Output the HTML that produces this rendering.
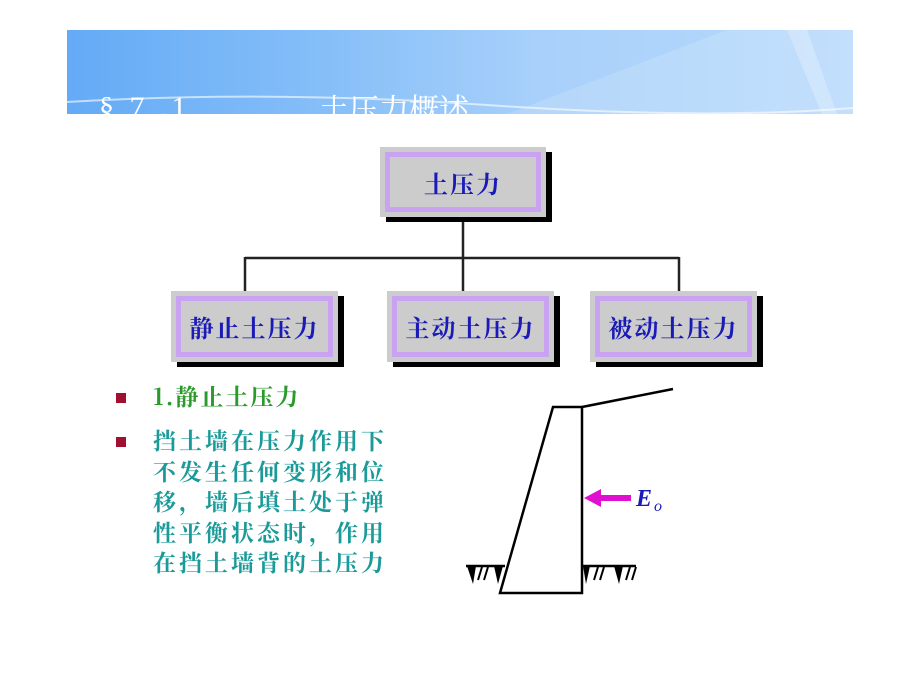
<!DOCTYPE html>
<html><head><meta charset="utf-8"><style>
body{margin:0;width:920px;height:690px;background:#fff;position:relative;overflow:hidden;font-family:"Liberation Serif","Noto Serif CJK SC",serif}
.banner{position:absolute;left:67px;top:30px;width:786px;height:84px;background:linear-gradient(90deg,#64aaf6 0%,#88c0f8 35%,#a8d0fa 60%,#b8dafc 100%);overflow:hidden}
.box{position:absolute;background:#cccccc;box-shadow:6px 5px 0 #000}
.box .in{position:absolute;left:5px;top:5px;right:5px;bottom:5px;border:5px solid #c9a3f2;display:flex;align-items:center;justify-content:center;color:#1a1ab8;font-size:24px;font-weight:bold;letter-spacing:2px;font-family:"Noto Serif CJK SC",serif}
.t{position:absolute;font-family:"Noto Serif CJK SC",serif}
.sq{position:absolute;width:10px;height:10px;background:#a01030}
</style></head><body>
<div class="banner">
<svg width="786" height="84" style="position:absolute;left:0;top:0">
<polygon points="440,84 660,0 786,0 786,84" fill="#ffffff" opacity="0.15"/>
<polygon points="720,0 740,0 770,84 755,84" fill="#ffffff" opacity="0.25"/>
<path d="M0,72 Q200,60 420,75 T786,78" stroke="#fff" stroke-width="2" fill="none" opacity="0.6"/>
</svg>
<div class="t" style="left:32px;top:63px;color:#fff;font-size:30px;line-height:30px;font-family:'Liberation Serif','Noto Serif CJK SC',serif;letter-spacing:4px">§ 7 .1</div>
<div class="t" style="left:252px;top:62px;color:#fff;font-size:30px;line-height:30px">土压力概述</div>
</div>
<svg width="920" height="690" style="position:absolute;left:0;top:0">
<g stroke="#222" stroke-width="2.5" fill="none">
<line x1="463" y1="220" x2="463" y2="292"/>
<line x1="245" y1="258" x2="679" y2="258"/>
<line x1="245" y1="257" x2="245" y2="292"/>
<line x1="679" y1="257" x2="679" y2="292"/>
</g>
<g stroke="#000" stroke-width="2.5" fill="none">
<polygon points="553,407 582,407 582,593 500,593"/>
<line x1="582" y1="407" x2="673" y2="389"/>
<line x1="466" y1="566" x2="505" y2="566"/>
<line x1="582" y1="566" x2="636" y2="566"/>
</g>
<g fill="#000">
<polygon points="467,566 476,566 473,584"/>
<polygon points="494,566 503,566 498,584"/>
<polygon points="583,566 590,566 586,584"/>
<polygon points="614,566 623,566 619,584"/>
</g>
<g stroke="#000" stroke-width="2">
<line x1="482" y1="567" x2="478" y2="580"/><line x1="488" y1="567" x2="484" y2="580"/>
<line x1="598" y1="567" x2="594" y2="580"/><line x1="604" y1="567" x2="600" y2="580"/>
<line x1="630" y1="567" x2="626" y2="580"/><line x1="636" y1="567" x2="632" y2="580"/>
</g>
<rect x="598" y="495" width="33" height="6" fill="#e010d0"/>
<polygon points="584,498 601,489 601,507" fill="#e010d0"/>
<text x="636" y="506" font-family="Liberation Serif" font-style="italic" font-weight="bold" font-size="24" fill="#1a1ab8">E</text>
<text x="654" y="511" font-family="Liberation Serif" font-style="italic" font-size="16" fill="#1a1ab8">o</text>
</svg>
<div class="box" style="left:380px;top:147px;width:166px;height:70px"><div class="in">土压力</div></div>
<div class="box" style="left:171px;top:291px;width:167px;height:71px"><div class="in">静止土压力</div></div>
<div class="box" style="left:387px;top:291px;width:167px;height:71px"><div class="in">主动土压力</div></div>
<div class="box" style="left:590px;top:291px;width:167px;height:71px"><div class="in">被动土压力</div></div>
<div class="sq" style="left:116px;top:393px"></div>
<div class="sq" style="left:116px;top:437px"></div>
<div class="t" style="left:153px;top:380px;color:#2a9a2a;font-size:23px;font-weight:bold;line-height:32px;letter-spacing:2px">1.静止土压力</div>
<div class="t" style="left:153px;top:425px;width:250px;color:#1a9a98;font-size:23px;font-weight:bold;line-height:30.5px;letter-spacing:3px">挡土墙在压力作用下<br>不发生任何变形和位<br>移，墙后填土处于弹<br>性平衡状态时，作用<br>在挡土墙背的土压力</div>
</body></html>
